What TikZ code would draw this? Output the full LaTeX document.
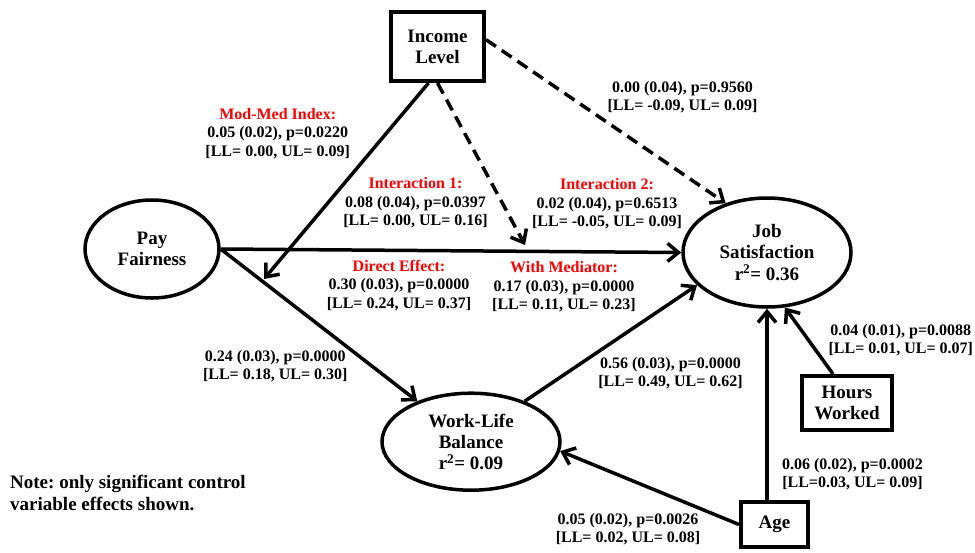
\documentclass[tikz,border=0pt]{standalone}
\usepackage{fontspec}
\setmainfont{Liberation Serif}
\usetikzlibrary{shapes.geometric,arrows.meta}
\frenchspacing
\begin{document}
\begin{tikzpicture}[x=1pt,y=-1pt,
  ell/.style={ellipse, draw, line width=3.5pt, inner sep=0pt, align=center, font=\fontsize{19}{21.2}\selectfont\bfseries},
  box/.style={rectangle, draw, line width=4pt, inner sep=0pt, align=center, font=\fontsize{19}{21.2}\selectfont\bfseries},
  lab/.style={inner sep=0pt, align=center, font=\fontsize{16}{18.6}\selectfont\bfseries},
  arr/.style={line width=3.5pt, -{Straight Barb[length=11pt,width=18pt]}},
  dsh/.style={arr, dash pattern=on 12pt off 7pt},
]
\useasboundingbox (0,0) rectangle (975,552);

% nodes
\node[box, minimum width=93pt, minimum height=69pt] (income) at (437.5,46.5) {Income\\Level};
\node[ell, minimum width=134pt, minimum height=98pt] (pay) at (152,249) {Pay\\Fairness};
\node[ell, minimum width=168pt, minimum height=109pt] (job) at (767,252.5) {Job\\Satisfaction\\r\textsuperscript{2}= 0.36};
\node[ell, minimum width=178pt, minimum height=97pt] (wlb) at (471,441.7) {Work-Life\\Balance\\r\textsuperscript{2}= 0.09};
\node[box, minimum width=90pt, minimum height=54pt] (hours) at (847,403) {Hours\\Worked};
\node[box, minimum width=67pt, minimum height=45pt] (age) at (774.5,524.5) {Age};

% free ends
\coordinate (m1) at (525,245);
\coordinate (m2) at (264,279);
\coordinate (i2) at ([xshift=-9pt]income.south);

% connectors
\draw[arr] (pay.east) -- (job.west);
\draw[arr] (pay.east) -- (wlb.143);
\draw[arr] (wlb.37) -- (job.205);
\draw[arr] (i2) -- (m2);
\draw[dsh] (income.south) -- (m1);
\draw[dsh] (income.8) -- (job.130);
\draw[arr] (age.north -| job.south) -- (job.south);
\draw[arr] ([xshift=-14pt]hours.north) -- (job.-72);
\draw[arr] (age.west) -- (wlb.-6);

% labels
\node[lab] (lmodmed) at (277.7,133.3) {{\color{red}Mod-Med Index:}\\0.05 (0.02), p=0.0220\\{}[LL= 0.00, UL= 0.09]};
\node[lab] (linter1) at (415.5,202.7) {{\color{red}Interaction 1:}\\0.08 (0.04), p=0.0397\\{}[LL= 0.00, UL= 0.16]};
\node[lab] (linter2) at (607,204) {{\color{red}Interaction 2:}\\0.02 (0.04), p=0.6513\\{}[LL= -0.05, UL= 0.09]};
\node[lab] (ldirect) at (399,285.5) {{\color{red}Direct Effect:}\\0.30 (0.03), p=0.0000\\{}[LL= 0.24, UL= 0.37]};
\node[lab] (lwithmed) at (564,286.7) {{\color{red}With Mediator:}\\0.17 (0.03), p=0.0000\\{}[LL= 0.11, UL= 0.23]};
\node[lab] (lincjob) at (682.5,97.2) {0.00 (0.04), p=0.9560\\{}[LL= -0.09, UL= 0.09]};
\node[lab] (lpaywlb) at (275.3,366.3) {0.24 (0.03), p=0.0000\\{}[LL= 0.18, UL= 0.30]};
\node[lab] (lwlbjob) at (670.5,373) {0.56 (0.03), p=0.0000\\{}[LL= 0.49, UL= 0.62]};
\node[lab] (lhours) at (900.8,340) {0.04 (0.01), p=0.0088\\{}[LL= 0.01, UL= 0.07]};
\node[lab] (lagejob) at (852.5,474) {0.06 (0.02), p=0.0002\\{}[LL=0.03, UL= 0.09]};
\node[lab] (lagewlb) at (628,529) {0.05 (0.02), p=0.0026\\{}[LL= 0.02, UL= 0.08]};
\node[inner sep=0pt, align=left, anchor=west, font=\fontsize{19}{22}\selectfont\bfseries] (note) at (10,493) {Note: only significant control\\variable effects shown.};
\end{tikzpicture}
\end{document}
